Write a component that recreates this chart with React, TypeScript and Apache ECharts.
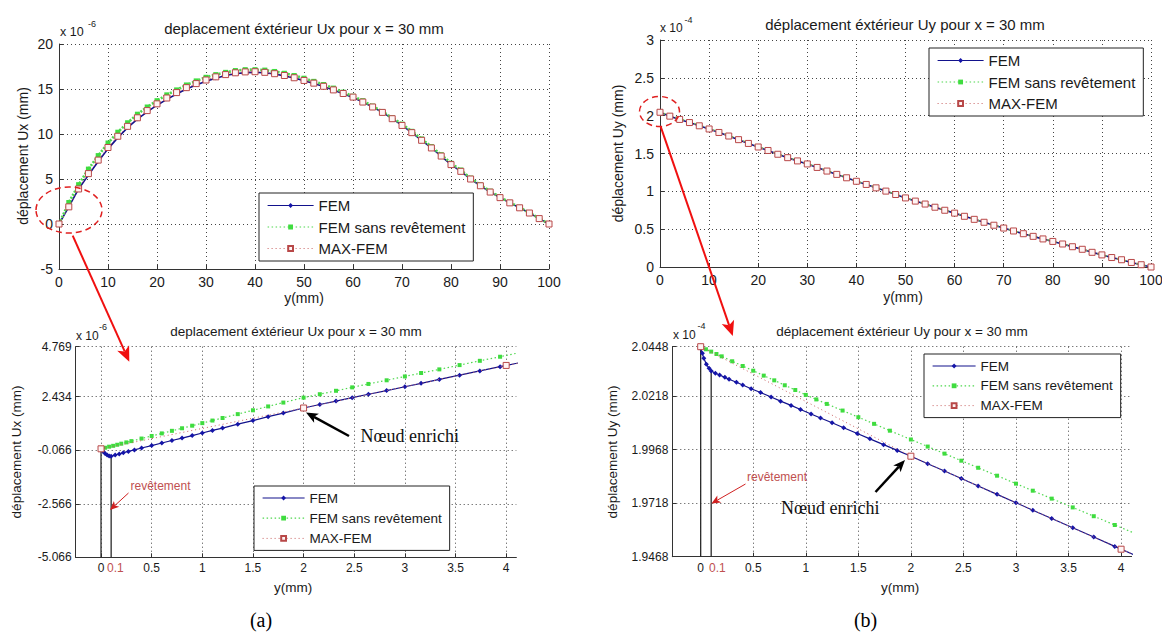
import React, { useEffect, useRef } from 'react';
import * as echarts from 'echarts';

// ---------- data ----------
const topX = [0, 2, 4, 6, 8, 10, 12, 14, 16, 18, 20, 22, 24, 26, 28, 30, 32, 34, 36, 38, 40, 42, 44, 46, 48, 50, 52, 54, 56, 58, 60, 62, 64, 66, 68, 70, 72, 74, 76, 78, 80, 82, 84, 86, 88, 90, 92, 94, 96, 98, 100];
// Ux (x 1e-6 mm)
const topUxFEM = [0, 1.906, 3.894, 5.45, 6.95, 8.35, 9.6, 10.7, 11.65, 12.45, 13.2, 13.85, 14.45, 15.0, 15.45, 15.85, 16.2, 16.5, 16.7, 16.82, 16.85, 16.8, 16.66, 16.46, 16.22, 15.93, 15.62, 15.28, 14.88, 14.48, 14.05, 13.55, 13.0, 12.4, 11.7, 10.95, 10.15, 9.3, 8.45, 7.55, 6.6, 5.85, 5.0, 4.25, 3.55, 2.93, 2.35, 1.8, 1.22, 0.6, 0];
const topUxSans = [0, 2.39, 4.37, 6.1, 7.6, 9.0, 10.2, 11.25, 12.2, 13.0, 13.7, 14.35, 14.9, 15.45, 15.9, 16.3, 16.6, 16.85, 17.05, 17.15, 17.15, 17.1, 16.95, 16.75, 16.5, 16.2, 15.85, 15.5, 15.1, 14.65, 14.2, 13.7, 13.1, 12.5, 11.8, 11.1, 10.3, 9.45, 8.6, 7.7, 6.75, 6.0, 5.1, 4.35, 3.65, 3.0, 2.4, 1.85, 1.25, 0.62, 0];
const topUxMax = [0, 1.906, 3.894, 5.6, 7.1, 8.5, 9.75, 10.85, 11.8, 12.6, 13.35, 14.0, 14.6, 15.15, 15.6, 16.0, 16.35, 16.6, 16.8, 16.9, 16.92, 16.85, 16.7, 16.5, 16.25, 15.95, 15.65, 15.3, 14.9, 14.5, 14.1, 13.55, 13.0, 12.4, 11.7, 10.95, 10.15, 9.3, 8.45, 7.55, 6.6, 5.85, 5.0, 4.25, 3.55, 2.93, 2.35, 1.8, 1.22, 0.6, 0];
// Uy (x 1e-4 mm)
const topUyMax = [2.0448, 1.9937, 1.9503, 1.909, 1.866, 1.824, 1.778, 1.731, 1.683, 1.633, 1.586, 1.540, 1.490, 1.445, 1.402, 1.362, 1.316, 1.268, 1.224, 1.179, 1.133, 1.091, 1.046, 1.003, 0.958, 0.913, 0.871, 0.832, 0.790, 0.750, 0.712, 0.670, 0.630, 0.591, 0.552, 0.515, 0.476, 0.440, 0.405, 0.371, 0.338, 0.304, 0.268, 0.234, 0.194, 0.160, 0.125, 0.096, 0.060, 0.030, 0];
const topUySans = [2.0448, 2.0015, 1.9604, 1.918, 1.874, 1.831, 1.784, 1.736, 1.688, 1.638, 1.590, 1.544, 1.494, 1.449, 1.406, 1.365, 1.319, 1.271, 1.227, 1.182, 1.136, 1.094, 1.049, 1.006, 0.961, 0.916, 0.874, 0.834, 0.792, 0.752, 0.714, 0.672, 0.632, 0.593, 0.554, 0.517, 0.478, 0.442, 0.407, 0.373, 0.340, 0.306, 0.270, 0.236, 0.196, 0.162, 0.127, 0.098, 0.061, 0.031, 0];
const topUyFEM = [2.0440, 1.9937, 1.9503, 1.909, 1.866, 1.824, 1.778, 1.731, 1.683, 1.633, 1.586, 1.540, 1.490, 1.445, 1.402, 1.362, 1.316, 1.268, 1.224, 1.179, 1.133, 1.091, 1.046, 1.003, 0.958, 0.913, 0.871, 0.832, 0.790, 0.750, 0.712, 0.670, 0.630, 0.591, 0.552, 0.515, 0.476, 0.440, 0.405, 0.371, 0.338, 0.304, 0.268, 0.234, 0.194, 0.160, 0.125, 0.096, 0.060, 0.030, 0];

// zoom Ux
const blFemX = [0, 0.02, 0.04, 0.06, 0.08, 0.1, 0.14, 0.18, 0.22, 0.27, 0.33, 0.4, 0.5, 0.6, 0.7, 0.8, 0.9, 1.0, 1.1, 1.2, 1.35, 1.5, 1.65, 1.8, 2.0, 2.16, 2.32, 2.48, 2.64, 2.82, 3.0, 3.16, 3.34, 3.54, 3.74, 3.94, 4.14];
const blFemUx = [0.0, -0.12, -0.22, -0.29, -0.33, -0.35, -0.29, -0.24, -0.18, -0.12, -0.05, 0.04, 0.15, 0.27, 0.39, 0.5, 0.62, 0.74, 0.86, 0.97, 1.15, 1.32, 1.5, 1.67, 1.906, 2.07, 2.23, 2.39, 2.55, 2.72, 2.9, 3.06, 3.24, 3.44, 3.64, 3.835, 4.03];
const blSansX = [0, 0.04, 0.08, 0.12, 0.16, 0.2, 0.25, 0.3, 0.4, 0.5, 0.6, 0.7, 0.8, 0.9, 1.0, 1.1, 1.2, 1.35, 1.5, 1.65, 1.8, 2.0, 2.16, 2.32, 2.48, 2.64, 2.82, 3.0, 3.16, 3.34, 3.54, 3.74, 3.94, 4.14];
const blSansUx = [0.0, 0.05, 0.1, 0.14, 0.19, 0.24, 0.3, 0.36, 0.48, 0.6, 0.72, 0.84, 0.96, 1.08, 1.2, 1.32, 1.44, 1.62, 1.8, 1.98, 2.16, 2.39, 2.55, 2.71, 2.87, 3.03, 3.2, 3.38, 3.54, 3.71, 3.91, 4.11, 4.3, 4.5];
const blMaxX = [0, 2, 4, 6];
const blMaxUx = [0.0, 1.906, 3.894, 5.6];

// zoom Uy
const brFemX = [0, 0.016, 0.03, 0.054, 0.08, 0.1, 0.14, 0.18, 0.23, 0.27, 0.34, 0.4, 0.48, 0.57, 0.67, 0.76, 0.86, 0.95, 1.05, 1.14, 1.25, 1.36, 1.49, 1.61, 1.74, 1.87, 2.0, 2.16, 2.32, 2.48, 2.64, 2.82, 3.0, 3.16, 3.34, 3.54, 3.74, 3.94, 4.14];
const brFemUy = [2.0440, 2.0417, 2.0394, 2.0366, 2.0347, 2.0335, 2.0324, 2.0316, 2.0305, 2.0296, 2.0282, 2.0269, 2.0252, 2.0234, 2.0213, 2.0194, 2.0174, 2.0155, 2.0134, 2.0115, 2.0093, 2.0070, 2.0043, 2.0018, 1.9991, 1.9964, 1.9937, 1.9902, 1.9868, 1.9833, 1.9798, 1.9759, 1.9720, 1.9685, 1.9646, 1.9603, 1.9560, 1.9516, 1.9473];
const brSansX = [0, 0.05, 0.1, 0.15, 0.2, 0.3, 0.4, 0.5, 0.6, 0.7, 0.8, 0.9, 1.0, 1.1, 1.2, 1.35, 1.5, 1.65, 1.8, 2.0, 2.16, 2.32, 2.48, 2.64, 2.82, 3.0, 3.16, 3.34, 3.54, 3.74, 3.94, 4.14];
const brSansUy = [2.0448, 2.0436, 2.0425, 2.0414, 2.0403, 2.0380, 2.0358, 2.0336, 2.0313, 2.0291, 2.0268, 2.0246, 2.0223, 2.0202, 2.0181, 2.0150, 2.0119, 2.0088, 2.0056, 2.0015, 1.9982, 1.9949, 1.9916, 1.9883, 1.9846, 1.9809, 1.9776, 1.9739, 1.9698, 1.9657, 1.9616, 1.9575];
const brMaxX = [0, 2, 4, 6];
const brMaxUy = [2.0448, 1.9937, 1.9503, 1.909];

// ticks
const zoomXTicks = [0, 0.5, 1, 1.5, 2, 2.5, 3, 3.5, 4];
const uxZoomTicks = [-5.066, -2.566, -0.066, 2.434, 4.769];
const uyZoomTicks = [1.9468, 1.9718, 1.9968, 2.0218, 2.0448];
const legendNames = ['FEM', 'FEM sans revêtement', 'MAX-FEM'];

// ---------- styles ----------
const FONT = '"Liberation Sans", Arial, Helvetica, sans-serif';
const SERIF = '"Liberation Serif", "Times New Roman", serif';
const BLUE = '#12128c';
const GREEN = '#3fdc3f';
const RED = '#c05050';
const TXT = '#1a1a1a';

const zip = (xs: number[], ys: number[]) => xs.map((x, i) => [x, ys[i]]);

function femSeries(i: number, data: number[][], size: number, lw: number) {
  return {
    name: 'FEM', type: 'line', xAxisIndex: i, yAxisIndex: i, data,
    symbol: 'diamond', symbolSize: size,
    itemStyle: { color: '#1515a8' },
    lineStyle: { color: BLUE, width: lw, type: 'solid' },
    z: 3, silent: true,
  };
}
function sansSeries(i: number, data: number[][], size: number, lw: number) {
  return {
    name: 'FEM sans revêtement', type: 'line', xAxisIndex: i, yAxisIndex: i, data,
    symbol: 'rect', symbolSize: size,
    itemStyle: { color: GREEN },
    lineStyle: { color: '#4fd84f', width: lw, type: lw > 2 ? [2, 1.5] : [1.5, 2.5] },
    z: 4, silent: true,
  };
}
function maxSeries(i: number, data: number[][], size: number) {
  return {
    name: 'MAX-FEM', type: 'line', xAxisIndex: i, yAxisIndex: i, data,
    symbol: 'rect', symbolSize: size,
    itemStyle: { color: '#fff4f4', borderColor: '#b84848', borderWidth: 1 },
    lineStyle: { color: '#c86060', width: 1, type: [1, 3] },
    z: 5, silent: true,
  };
}
function vline(i: number, data: number[][]) {
  return {
    type: 'line', xAxisIndex: i, yAxisIndex: i, data, symbol: 'none',
    lineStyle: { color: '#2a2a2a', width: 1.3 }, z: 2, silent: true,
  };
}

function axisCommon(fs: number, margin: number) {
  return {
    axisLine: { show: true, onZero: false, lineStyle: { color: '#333', width: 1 } },
    axisTick: { show: true, inside: true, length: 4, lineStyle: { color: '#333' } },
    axisLabel: { color: TXT, fontSize: fs, fontFamily: FONT, margin },
    splitLine: { show: true, lineStyle: { color: '#444', width: 1, type: [1, 3] } },
  };
}

function legendAt(left: number, top: number, fs: number, iw: number, gap: number) {
  return {
    data: [
      { name: 'FEM', lineStyle: { color: BLUE, width: 1.2, type: 'solid' } },
      { name: 'FEM sans revêtement', lineStyle: { color: '#4fd84f', width: 1.2, type: [1.5, 2.5] } },
      { name: 'MAX-FEM', lineStyle: { color: '#c86060', width: 1, type: [1, 3] } },
    ],
    left, top, orient: 'vertical', selectedMode: false,
    backgroundColor: '#fff', borderColor: '#222', borderWidth: 1, borderRadius: 0,
    padding: [5, 8, 5, 8], itemGap: gap, itemWidth: iw, itemHeight: 6,
    textStyle: { fontSize: fs, color: TXT, fontFamily: FONT },
  };
}

function arrow(x1: number, y1: number, x2: number, y2: number, color: string, lw: number, hl: number, hw: number) {
  const dx = x2 - x1, dy = y2 - y1;
  const L = Math.hypot(dx, dy);
  const ux = dx / L, uy = dy / L, nx = -uy, ny = ux;
  const bx = x2 - ux * hl, by = y2 - uy * hl;
  const mx = x2 - ux * hl * 0.75, my = y2 - uy * hl * 0.75;
  return [
    { type: 'line', z: 100, shape: { x1, y1, x2: mx, y2: my }, style: { stroke: color, lineWidth: lw } },
    { type: 'polygon', z: 100, shape: { points: [[x2, y2], [bx + nx * hw, by + ny * hw], [mx, my], [bx - nx * hw, by - ny * hw]] }, style: { fill: color } },
  ];
}

function txt(text: string, x: number, y: number, fs: number, opts: any = {}) {
  return {
    type: 'text', x, y, z: 100, rotation: opts.rotation || 0,
    style: {
      text, fontSize: fs, fontFamily: opts.font || FONT, fill: opts.fill || TXT,
      align: opts.align || 'center', verticalAlign: 'middle',
      backgroundColor: opts.bg, padding: opts.padding,
    },
  };
}

export default function App() {
  const ref = useRef<HTMLDivElement>(null);
  useEffect(() => {
    if (!ref.current) return;
    const chart = echarts.init(ref.current, undefined, { renderer: 'svg' });
    const zoomAxis = (grid: number, min: number, max: number, ticks: number[], fs: number, margin: number, digits: number | null) => {
      const c: any = axisCommon(fs, margin);
      return {
        type: 'value', gridIndex: grid, min, max, ...c,
        axisTick: { ...c.axisTick, customValues: ticks },
        axisLabel: {
          ...c.axisLabel, customValues: ticks,
          ...(digits === null ? {} : { formatter: (v: number) => v.toFixed(digits) }),
        },
      };
    };
    const option: any = {
      animation: false,
      backgroundColor: '#fff',
      grid: [
        { left: 59, top: 44, width: 490, height: 225, outerBoundsMode: 'none' },
        { left: 660, top: 40, width: 491, height: 227, outerBoundsMode: 'none' },
        { left: 75.7, top: 346.7, width: 440.6, height: 210.6, outerBoundsMode: 'none' },
        { left: 672.3, top: 346.7, width: 459.3, height: 210, outerBoundsMode: 'none' },
      ],
      xAxis: [
        { type: 'value', gridIndex: 0, min: 0, max: 100, interval: 10, ...axisCommon(14, 6) },
        { type: 'value', gridIndex: 1, min: 0, max: 100, interval: 10, ...axisCommon(14, 6) },
        zoomAxis(2, -0.25, 4.1, zoomXTicks, 12, 5, null),
        zoomAxis(3, -0.27, 4.1, zoomXTicks, 12, 5, null),
      ],
      yAxis: [
        { type: 'value', gridIndex: 0, min: -5, max: 20, interval: 5, ...axisCommon(14, 6) },
        { type: 'value', gridIndex: 1, min: 0, max: 3, interval: 0.5, ...axisCommon(14, 6) },
        zoomAxis(2, -5.066, 4.769, uxZoomTicks, 12, 4, 3),
        zoomAxis(3, 1.9468, 2.0448, uyZoomTicks, 12, 4, 4),
      ],
      legend: [
        legendAt(259, 193, 15, 46, 6.5),
        legendAt(929, 48, 15, 46, 6.5),
        legendAt(254, 486, 13.5, 42, 6.2),
        legendAt(924, 354, 13.5, 43, 5.8),
      ],
      series: [
        femSeries(0, zip(topX, topUxFEM), 4, 1.6),
        sansSeries(0, zip(topX, topUxSans), 5, 2.6),
        maxSeries(0, zip(topX, topUxMax), 6),
        femSeries(1, zip(topX, topUyFEM), 4, 1.6),
        sansSeries(1, zip(topX, topUySans), 4, 1.6),
        maxSeries(1, zip(topX, topUyMax), 6),
        vline(2, [[0, uxZoomTicks[0]], [0, blFemUx[0]]]),
        vline(2, [[0.1, uxZoomTicks[0]], [0.1, blFemUx[5]]]),
        femSeries(2, zip(blFemX, blFemUx), 5, 1.2),
        sansSeries(2, zip(blSansX, blSansUx), 4, 1.2),
        maxSeries(2, zip(blMaxX, blMaxUx), 6),
        vline(3, [[0, uyZoomTicks[0]], [0, brFemUy[0]]]),
        vline(3, [[0.1, uyZoomTicks[0]], [0.1, brFemUy[5]]]),
        femSeries(3, zip(brFemX, brFemUy), 5, 1.2),
        sansSeries(3, zip(brSansX, brSansUy), 4, 1.2),
        maxSeries(3, zip(brMaxX, brMaxUy), 6),
      ],
      graphic: {
        elements: [
          // titles
          txt('deplacement éxtérieur Ux pour x = 30 mm', 304, 28, 15),
          txt('déplacement éxtérieur Uy pour x = 30 mm', 905, 24, 15),
          txt('deplacement éxtérieur Ux pour x = 30 mm', 296, 331.5, 13.5),
          txt('déplacement éxtérieur Uy pour x = 30 mm', 902, 331.5, 13.5),
          // multipliers
          txt('x 10', 60, 32, 12.5, { align: 'left' }),
          txt('-6', 88, 24, 9, { align: 'left' }),
          txt('x 10', 660, 28, 12, { align: 'left' }),
          txt('-4', 684.5, 19.5, 9, { align: 'left' }),
          txt('x 10', 76, 335.5, 12, { align: 'left' }),
          txt('-6', 99, 327, 9, { align: 'left' }),
          txt('x 10', 673, 335, 12, { align: 'left' }),
          txt('-4', 697.5, 326, 9, { align: 'left' }),
          // axis names
          txt('déplacement Ux (mm)', 23, 156, 14, { rotation: Math.PI / 2 }),
          txt('déplacement Uy (mm)', 618, 153.5, 14, { rotation: Math.PI / 2 }),
          txt('déplacement Ux (mm)', 16.5, 452, 13.5, { rotation: Math.PI / 2 }),
          txt('déplacement Uy (mm)', 612, 452, 13.5, { rotation: Math.PI / 2 }),
          txt('y(mm)', 304, 297.5, 14),
          txt('y(mm)', 903, 297, 14),
          txt('y(mm)', 293, 587.5, 13.5),
          txt('y(mm)', 900, 587, 13.5),
          // red 0.1 labels
          txt('0.1', 107, 568, 12, { align: 'left', fill: RED }),
          txt('0.1', 707, 568, 12, { align: 'left', fill: RED, bg: '#fff', padding: [0, 1, 0, 2] }),
          // revêtement
          txt('revêtement', 130.5, 485.5, 12, { align: 'left', fill: RED }),
          ...arrow(128.5, 493, 110, 510, '#d02020', 1, 9, 4),
          txt('revêtement', 747, 476.5, 12, { align: 'left', fill: RED }),
          ...arrow(745.5, 484, 711.5, 503.5, '#d02020', 1, 9, 4),
          // Noeud enrichi
          txt('Nœud enrichi', 360.5, 436, 18, { align: 'left', font: SERIF, fill: '#111' }),
          ...arrow(349, 436, 306, 412.5, '#000', 2.5, 12, 5),
          txt('Nœud enrichi', 781, 508, 18, { align: 'left', font: SERIF, fill: '#111' }),
          ...arrow(875.5, 492, 905, 460, '#000', 2.5, 12, 5),
          // red dashed ellipses and connecting arrows
          { type: 'ellipse', z: 100, shape: { cx: 69, cy: 210, rx: 33, ry: 23 }, style: { fill: 'none', stroke: '#e02020', lineWidth: 1.5, lineDash: [6, 4] } },
          { type: 'ellipse', z: 100, shape: { cx: 659.5, cy: 111.5, rx: 20, ry: 15 }, style: { fill: 'none', stroke: '#e02020', lineWidth: 1.5, lineDash: [6, 4] } },
          ...arrow(72.7, 235.7, 129.3, 361.7, '#f01010', 2, 15, 6.5),
          ...arrow(660.7, 126.6, 732.8, 336, '#f01010', 2, 15, 6.5),
          // panel letters
          txt('(a)', 261, 620, 20, { font: SERIF, fill: '#000' }),
          txt('(b)', 865.6, 620, 20, { font: SERIF, fill: '#000' }),
        ],
      },
    };
    chart.setOption(option);
    return () => chart.dispose();
  }, []);
  return (
    <div
      ref={ref}
      style={{ position: 'absolute', left: 0, top: 0, width: 1162, height: 632, background: '#fff' }}
    />
  );
}
